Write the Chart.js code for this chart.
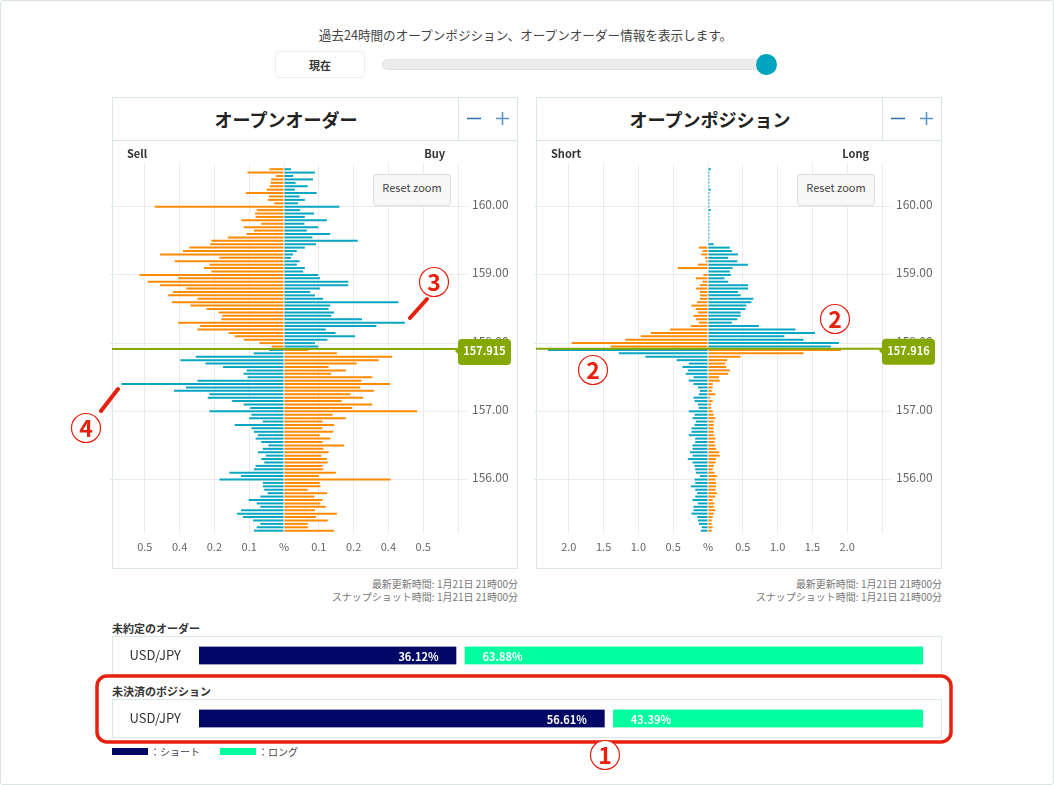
<!DOCTYPE html>
<html lang="ja">
<head>
<meta charset="utf-8">
<title>オープンオーダー / オープンポジション</title>
<script src="https://cdn.jsdelivr.net/npm/chart.js@4/dist/chart.umd.min.js"></script>
<style>
  * { box-sizing: border-box; }
  html, body { margin: 0; padding: 0; background: #fff; }
  body { font-family: "Noto Sans CJK JP", "Noto Sans", sans-serif; color: #333; }
  #page { position: relative; width: 1054px; height: 785px; overflow: hidden; border: 1px solid #dbe4e4; border-radius: 3px; }
  .abs { position: absolute; white-space: nowrap; }
  .frame { position: absolute; border: 1px solid #dbe6e6; background: #fff; }
  canvas { position: absolute; }
  .title { font-size: 18px; font-weight: 700; color: #222; text-align: center; line-height: 42px; }
  .side { font-size: 11px; font-weight: 700; color: #333; line-height: 14px; }
  .reset { position: absolute; width: 78px; height: 32px; line-height: 24px; text-align: center; font-size: 11px; color: #444; background: #f7f7f7; border: 1px solid #ddd; border-radius: 3px; }
  .note { font-size: 10px; color: #777; line-height: 13px; text-align: right; }
  .head { font-size: 11px; font-weight: 700; color: #333; line-height: 14px; }
  .swatch { position: absolute; width: 36px; height: 7px; }
  .legend { font-size: 10px; color: #444; line-height: 14px; }
  svg { position: absolute; left: 0; top: 0; }
</style>
</head>
<body>
<div id="page" style="left:0;top:0">
  <div class="abs" style="left:0;width:1049px;top:26px;text-align:center;font-size:12.6px;line-height:16px;color:#444">過去24時間のオープンポジション、オープンオーダー情報を表示します。</div>
  <div class="abs" style="left:274px;top:50px;width:90px;height:27px;border:1px solid #eee;border-radius:4px;text-align:center;font-size:11px;font-weight:700;line-height:26px;color:#333">現在</div>
  <div class="abs" style="left:381px;top:58px;width:388px;height:11px;background:#ececec;border:1px solid #e2e2e2;border-radius:6px"></div>
  <div class="abs" style="left:755px;top:53px;width:21px;height:21px;background:#00a5bd;border-radius:50%"></div>

  <div class="frame" style="left:111px;top:96px;width:406px;height:472px"></div>
  <div class="frame" style="left:111px;top:96px;width:406px;height:44px"></div>
  <div class="frame" style="left:457px;top:96px;width:60px;height:44px"></div>
  <div class="abs title" style="left:112px;top:97px;width:346px">オープンオーダー</div>

  <div class="frame" style="left:535px;top:96px;width:406px;height:472px"></div>
  <div class="frame" style="left:535px;top:96px;width:406px;height:44px"></div>
  <div class="frame" style="left:881px;top:96px;width:60px;height:44px"></div>
  <div class="abs title" style="left:536px;top:97px;width:346px">オープンポジション</div>

  <canvas id="orderChart" width="408" height="426" style="left:109px;top:140px"></canvas>
  <canvas id="positionChart" width="408" height="426" style="left:533px;top:140px"></canvas>

  <div class="abs side" style="left:126px;top:145px">Sell</div>
  <div class="abs side" style="right:608px;top:145px">Buy</div>
  <div class="abs side" style="left:550px;top:145px">Short</div>
  <div class="abs side" style="right:184px;top:145px">Long</div>
  <div class="reset" style="left:372px;top:173px">Reset zoom</div>
  <div class="reset" style="left:796px;top:173px">Reset zoom</div>

  <div class="abs note" style="right:535px;top:576px">最新更新時間: 1月21日 21時00分<br>スナップショット時間: 1月21日 21時00分</div>
  <div class="abs note" style="right:111px;top:576px">最新更新時間: 1月21日 21時00分<br>スナップショット時間: 1月21日 21時00分</div>

  <div class="abs head" style="left:111px;top:620px">未約定のオーダー</div>
  <div class="frame" style="left:111px;top:635px;width:830px;height:39px"></div>
  <canvas id="orderRatio" width="828" height="37" style="left:112px;top:636px"></canvas>

  <div class="abs head" style="left:111px;top:683px">未決済のポジション</div>
  <div class="frame" style="left:111px;top:698px;width:830px;height:39px"></div>
  <canvas id="positionRatio" width="828" height="37" style="left:112px;top:699px"></canvas>

  <div class="swatch" style="left:111px;top:747px;background:#020664"></div>
  <div class="abs legend" style="left:149px;top:744px">：ショート</div>
  <div class="swatch" style="left:219px;top:747px;background:#00ff9f"></div>
  <div class="abs legend" style="left:257px;top:744px">：ロング</div>

  <svg width="1054" height="785" viewBox="1 1 1054 785">
    <!-- zoom buttons -->
    <g stroke-width="1.6" fill="none">
      <path d="M467 118.5h14M891 118.5h14" stroke="#2f6fae"/>
      <path d="M496 118.5h13M502.5 112v13M920 118.5h13M926.5 112v13" stroke="#5b93cc"/>
    </g>
    <!-- red callouts -->
    <g fill="none" stroke="#e8200f">
      <rect x="97" y="676" width="854" height="66" rx="10" stroke-width="3.5"/>
      <path d="M410 318L427 299M101 411L118 389" stroke-width="4" stroke-linecap="round"/>
    </g>
    <g fill="#fff" stroke="#e8200f" stroke-width="1.2">
      <circle cx="605" cy="755" r="14.5"/>
      <circle cx="835" cy="319" r="14.5"/>
      <circle cx="593" cy="370" r="14.5"/>
      <circle cx="434" cy="282" r="14.5"/>
      <circle cx="86" cy="428" r="14.5"/>
    </g>
    <g fill="#e8200f" font-size="23" font-weight="700" text-anchor="middle" font-family="'Noto Sans CJK JP'">
      <text x="605" y="763.5">1</text>
      <text x="835" y="327.5">2</text>
      <text x="593" y="378.5">2</text>
      <text x="434" y="290.5">3</text>
      <text x="86" y="436.5">4</text>
    </g>
  </svg>
</div>

<script>
// Price levels, top to bottom
const priceLevels = [
  160.55, 160.50, 160.45, 160.40, 160.35, 160.30, 160.25, 160.20, 160.15, 160.10,
  160.05, 160.00, 159.95, 159.90, 159.85, 159.80, 159.75, 159.70, 159.65, 159.60,
  159.55, 159.50, 159.45, 159.40, 159.35, 159.30, 159.25, 159.20, 159.15, 159.10,
  159.05, 159.00, 158.95, 158.90, 158.85, 158.80, 158.75, 158.70, 158.65, 158.60,
  158.55, 158.50, 158.45, 158.40, 158.35, 158.30, 158.25, 158.20, 158.15, 158.10,
  158.05, 158.00, 157.95, 157.90, 157.85, 157.80, 157.75, 157.70, 157.65, 157.60,
  157.55, 157.50, 157.45, 157.40, 157.35, 157.30, 157.25, 157.20, 157.15, 157.10,
  157.05, 157.00, 156.95, 156.90, 156.85, 156.80, 156.75, 156.70, 156.65, 156.60,
  156.55, 156.50, 156.45, 156.40, 156.35, 156.30, 156.25, 156.20, 156.15, 156.10,
  156.05, 156.00, 155.95, 155.90, 155.85, 155.80, 155.75, 155.70, 155.65, 155.60,
  155.55, 155.50, 155.45, 155.40, 155.35, 155.30, 155.25
];

// Open orders (%)
const orderSell = [
  .052, .131, .029, .046, .048, .051, .062, .137, .054, .058,
  .035, .464, .098, .104, .102, .154, .082, .145, .108, .134,
  .202, .261, .265, .340, .363, .445, .232, .392, .268, .287,
  .261, .519, .380, .490, .445, .351, .399, .416, .311, .403,
  .336, .278, .235, .221, .225, .380, .301, .311, .199, .177,
  .145, .088, .044, .054, .109, .317, .372, .282, .219, .134,
  .145, .131, .311, .584, .352, .395, .268, .274, .186, .145,
  .121, .268, .117, .125, .076, .177, .117, .108, .094, .102,
  .082, .056, .076, .094, .065, .082, .071, .102, .108, .196,
  .154, .232, .076, .076, .071, .059, .085, .127, .098, .085,
  .154, .169, .147, .111, .085, .098, .108
];
const orderBuy = [
  .025, .111, .033, .104, .042, .085, .039, .117, .056, .075,
  .050, .199, .058, .108, .075, .154, .073, .123, .082, .166,
  .102, .265, .115, .075, .046, .033, .025, .056, .046, .075,
  .069, .123, .129, .231, .231, .129, .094, .111, .140, .411,
  .166, .160, .180, .170, .280, .434, .332, .150, .185, .255,
  .156, .111, .123, .088, .190, .388, .340, .261, .160, .222,
  .170, .317, .278, .381, .274, .323, .239, .284, .207, .317,
  .245, .478, .174, .222, .138, .180, .138, .177, .128, .167,
  .138, .216, .141, .160, .134, .154, .157, .138, .141, .186,
  .125, .383, .128, .131, .085, .155, .109, .138, .131, .150,
  .111, .190, .115, .157, .085, .086, .180
];

// Open positions (%), null where the side has no bar
const positionShort = [
  null, null, null, null, null, null, null, null, null, null,
  null, null, null, null, null, null, null, null, null, null,
  null, null, null, .131, .077, .097, .044, .029, .145, .435,
  .010, .068, .174, .077, .116, .174, .116, .116, .116, .160,
  .237, .174, .145, .208, .174, .131, .247, .546, .822, .967,
  1.190, 1.959, 1.398, 2.297, 1.282, .900, .450, .276, .368, .290,
  .319, .208, .276, .208, .145, .116, .131, .208, .193, .145,
  .131, .276, .193, .222, .174, .193, .237, .237, .276, .184,
  .184, .222, .222, .261, .222, .290, .222, .193, .184, .174,
  .116, .193, .184, .247, .184, .155, .184, .222, .145, .208,
  .208, .237, .155, .145, .131, .092, .102
];
const positionLong = [
  .040, .020, .020, .020, .020, .020, .040, .020, .020, .020,
  .020, .020, .040, .020, .020, .020, .020, .020, .020, .020,
  .020, .015, .082, .314, .343, .430, .290, .421, .575, .353,
  .314, .329, .237, .290, .575, .575, .430, .469, .653, .624,
  .551, .537, .469, .469, .421, .343, .730, 1.257, 1.538, 1.098,
  1.373, 1.881, 1.765, 1.910, 1.373, .469, .276, .247, .261, .314,
  .290, .160, .169, .068, .068, .053, .106, .029, .068, .044,
  .044, .068, .082, .106, .082, .082, .082, .082, .082, .106,
  .092, .106, .116, .160, .169, .116, .106, .082, .068, .092,
  .131, .106, .116, .116, .106, .131, .106, .068, .092, .082,
  .106, .082, .068, .053, .053, .068, .053
];

const orderPrice = 157.915;
const positionPrice = 157.916;

// Tick labels (the site rounds them, so they are not computed)
const orderTickLabels = ['', '0.5', '0.4', '0.2', '0.1', '%', '0.1', '0.2', '0.4', '0.5', ''];
const positionTickLabels = ['', '2.0', '1.5', '1.0', '0.5', '%', '0.5', '1.0', '1.5', '2.0', ''];

// Totals at the bottom
const ratioCategory = ['USD/JPY'];
const orderRatioShort = [36.12];
const orderRatioLong = [63.88];
const positionRatioShort = [56.61];
const positionRatioLong = [43.39];

const TEAL = '#08a6c2';
const ORANGE = '#ff8a00';
const GREEN = '#84a800';
const GRID = '#e9ecec';
const FONT = '"Noto Sans CJK JP", "Noto Sans", sans-serif';

// Current price line with its tag on the right axis
const priceLinePlugin = {
  id: 'priceLine',
  afterDraw(chart, args, opts) {
    const { ctx, chartArea } = chart;
    const y = chart.scales.y.getPixelForValue(opts.value);
    ctx.save();
    ctx.strokeStyle = GREEN;
    ctx.lineWidth = 2;
    ctx.beginPath();
    ctx.moveTo(chartArea.left + 2, y);
    ctx.lineTo(chartArea.right, y);
    ctx.stroke();

    const x = chartArea.right;
    ctx.fillStyle = GREEN;
    ctx.beginPath();
    ctx.roundRect(x, y - 10, 53, 26, 4);
    ctx.fill();
    ctx.beginPath();
    ctx.moveTo(x - 3, y + 2);
    ctx.lineTo(x + 1, y - 2);
    ctx.lineTo(x + 1, y + 6);
    ctx.fill();

    ctx.fillStyle = '#fff';
    ctx.font = `700 11px ${FONT}`;
    ctx.textAlign = 'center';
    ctx.textBaseline = 'middle';
    ctx.fillText(opts.value.toFixed(3), x + 26.5, y + 2);
    ctx.restore();
  }
};

// Percent text inside the ratio bars
const ratioLabelPlugin = {
  id: 'ratioLabel',
  afterDatasetsDraw(chart) {
    const { ctx } = chart;
    ctx.save();
    ctx.fillStyle = '#fff';
    ctx.font = `700 11px ${FONT}`;
    ctx.textBaseline = 'middle';
    chart.data.datasets.forEach((ds, i) => {
      const bar = chart.getDatasetMeta(i).data[0];
      const text = ds.data[0].toFixed(2) + '%';
      if (i === 0) {
        ctx.textAlign = 'right';
        ctx.fillText(text, bar.x - 22, bar.y + 1);
      } else {
        ctx.textAlign = 'left';
        ctx.fillText(text, bar.base + 22, bar.y + 1);
      }
    });
    ctx.restore();
  }
};

function makePyramid(id, leftValues, rightValues, price, range, step, tickLabels) {
  const leftColor = (c) => (priceLevels[c.dataIndex] > price ? ORANGE : TEAL);
  const rightColor = (c) => (priceLevels[c.dataIndex] > price ? TEAL : ORANGE);
  const side = (values, sign) => priceLevels.map((p, i) => ({ x: values[i] === null ? null : sign * values[i], y: p }));
  return new Chart(document.getElementById(id), {
    type: 'bar',
    data: {
      datasets: [
        { data: side(leftValues, -1), backgroundColor: leftColor, barThickness: 2, grouped: false, inflateAmount: 0 },
        { data: side(rightValues, 1), backgroundColor: rightColor, barThickness: 2, grouped: false, inflateAmount: 0 }
      ]
    },
    options: {
      indexAxis: 'y',
      responsive: false,
      animation: false,
      layout: { padding: { top: 23, left: 0, right: 0, bottom: 0 } },
      plugins: { legend: { display: false }, tooltip: { enabled: false }, priceLine: { value: price } },
      scales: {
        x: {
          type: 'linear',
          min: -range,
          max: range,
          // tick marks are invisible, they only push the labels down
          grid: { color: (c) => (c.index === 0 ? 'transparent' : GRID), tickColor: 'transparent', tickLength: 7 },
          border: { display: false },
          ticks: {
            stepSize: step,
            autoSkip: false,
            maxRotation: 0,
            padding: 0,
            color: '#666',
            font: { family: FONT, size: 11 },
            callback: (v, i) => tickLabels[i]
          },
          afterFit: (scale) => { scale.height = 34; }
        },
        y: {
          type: 'linear',
          position: 'right',
          offset: false,
          min: 155.216,
          max: 160.626,
          grid: { color: GRID, offset: false, tickLength: 9 },
          border: { color: GRID },
          ticks: {
            stepSize: 1,
            includeBounds: false,
            autoSkip: false,
            padding: 5,
            labelOffset: -2,
            color: '#666',
            font: { family: FONT, size: 12 },
            callback: (v) => v.toFixed(2)
          },
          afterFit: (scale) => { scale.width = 60; }
        }
      }
    },
    plugins: [priceLinePlugin]
  });
}

function makeRatio(id, shortValues, longValues) {
  return new Chart(document.getElementById(id), {
    type: 'bar',
    data: {
      labels: ratioCategory,
      datasets: [
        { data: shortValues, backgroundColor: '#020664', barThickness: 18, borderColor: '#fff', borderSkipped: false, borderWidth: { right: 4.5 } },
        { data: longValues, backgroundColor: '#00ff9f', barThickness: 18, borderColor: '#fff', borderSkipped: false, borderWidth: { left: 4.5 } }
      ]
    },
    options: {
      indexAxis: 'y',
      responsive: false,
      animation: false,
      layout: { padding: { left: 0, right: 18, top: 0, bottom: 0 } },
      plugins: { legend: { display: false }, tooltip: { enabled: false } },
      scales: {
        x: { stacked: true, min: 0, max: 100, display: false },
        y: {
          stacked: true,
          // ticks.padding would eat the chart height, so the gap comes from an invisible tick
          grid: { color: 'transparent', tickColor: 'transparent', tickLength: 18 },
          border: { display: false },
          ticks: { padding: 0, color: '#333', font: { family: FONT, size: 13 } },
          afterFit: (scale) => { scale.width = 86; }
        }
      }
    },
    plugins: [ratioLabelPlugin]
  });
}

makePyramid('orderChart', orderSell, orderBuy, orderPrice, 0.625, 0.125, orderTickLabels);
makePyramid('positionChart', positionShort, positionLong, positionPrice, 2.5, 0.5, positionTickLabels);
makeRatio('orderRatio', orderRatioShort, orderRatioLong);
makeRatio('positionRatio', positionRatioShort, positionRatioLong);
</script>
</body>
</html>
